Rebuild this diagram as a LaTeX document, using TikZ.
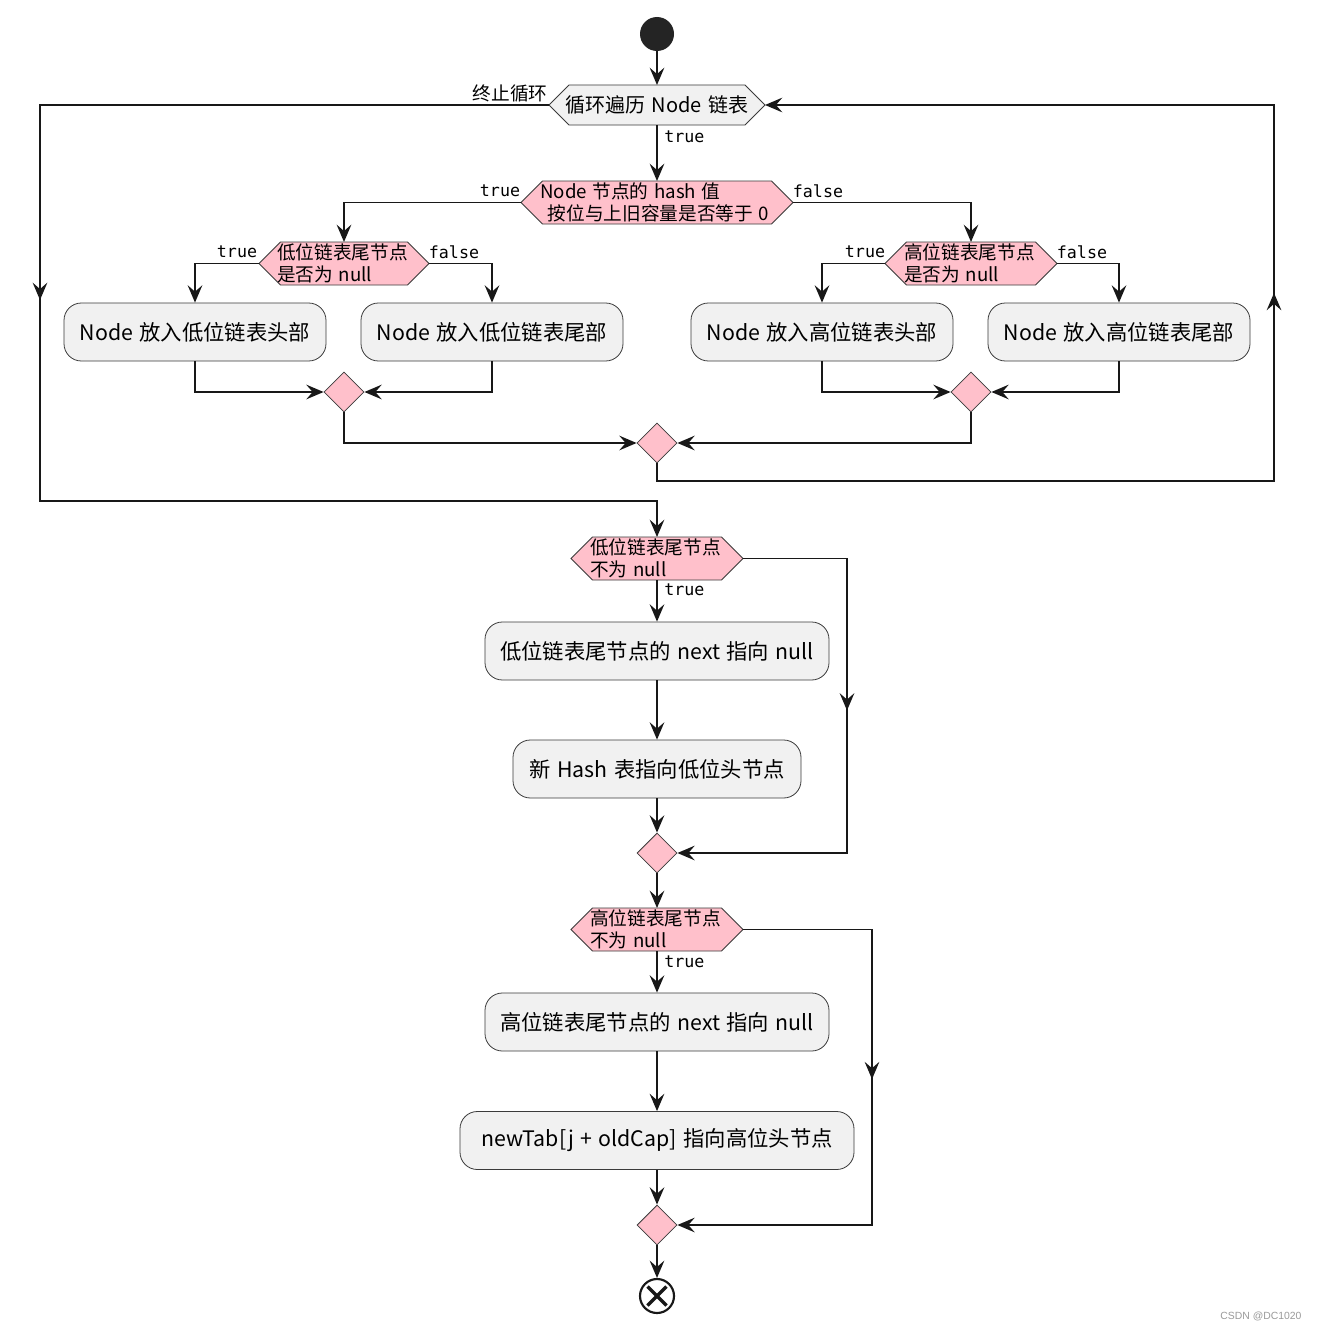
\documentclass[tikz,border=0pt]{standalone}
\usepackage{fontspec}
\setmainfont[WordSpace=1.35]{Noto Sans CJK SC}
\newfontfamily\lblfont{DejaVu Sans Mono}
\newfontfamily\wmfont{Liberation Sans}
\usetikzlibrary{arrows.meta,shapes.geometric,decorations.markings}
\definecolor{lineg}{HTML}{181818}
\definecolor{boxfill}{HTML}{F1F1F1}
\definecolor{pinkf}{HTML}{FFC0CB}
\definecolor{wmgray}{HTML}{9A9A9A}
\newcommand\myhex[6]{% name, cx, cy, half width, half height, fill
  \path[draw=lineg!85, line width=0.6pt, fill=#6] (#2-#4,#3) -- (#2-#4+#5,#3-#5) -- (#2+#4-#5,#3-#5) -- (#2+#4,#3) -- (#2+#4-#5,#3+#5) -- (#2-#4+#5,#3+#5) -- cycle;
  \node[inner sep=0pt, outer sep=0pt, minimum width={2*#4*0.75pt}, minimum height={2*#5*0.75pt}] (#1) at (#2,#3) {};}
\begin{document}
\begin{tikzpicture}[x=0.75pt,y=-0.75pt,
  uml/.tip={Stealth[length=13pt,width=11pt,inset=4.8pt]},
  conn/.style={draw=lineg, line width=1.1pt, -uml},
  midarr/.style={postaction={decorate, decoration={markings, mark=at position #1 with {\arrow{uml}}}}},
  act/.style={draw=lineg!85, line width=0.6pt, fill=boxfill, rounded corners=13pt, minimum height=43.5pt, inner sep=0pt, font=\fontsize{16}{19}\selectfont},
  merge/.style={diamond, draw=lineg!85, line width=0.6pt, fill=pinkf, minimum size=30pt, inner sep=0pt},
  lbl/.style={font=\lblfont\fontsize{12.5}{14}\selectfont, inner sep=0pt},
  dtext/.style={anchor=west, align=left, inner sep=0pt, font=\fontsize{14}{16.5}\selectfont},
]
\useasboundingbox (0,0) rectangle (1319,1331);
\fill[white] (0,0) rectangle (1319,1331);

% start
\node[circle, fill=lineg!95, minimum size=25.5pt, inner sep=0pt] (start) at (657,34) {};

% loop hexagon
\myhex{loop}{657}{105}{108}{20}{boxfill}
\node[inner sep=0pt, font=\fontsize{15}{18}\selectfont] (looptxt) at (657,105) {循环遍历 Node 链表};

% decision 1
\myhex{dec1}{657}{202.5}{136}{21.5}{pinkf}
\node[dtext] (dec1txt) at (540,202.5) {Node 节点的 hash 值\\\hspace{0.4em}按位与上旧容量是否等于 0};

% decision L / R
\myhex{decL}{344}{263.5}{85}{21.5}{pinkf}
\node[dtext] (decLtxt) at (277,263.5) {低位链表尾节点\\是否为 null};
\myhex{decR}{971}{263.5}{86}{21.5}{pinkf}
\node[dtext] (decRtxt) at (904,263.5) {高位链表尾节点\\是否为 null};

% actions top
\node[act, minimum width=196.5pt] (b1) at (195,332) {Node 放入低位链表头部};
\node[act, minimum width=196.5pt] (b2) at (492,332) {Node 放入低位链表尾部};
\node[act, minimum width=196.5pt] (b3) at (822,332) {Node 放入高位链表头部};
\node[act, minimum width=196.5pt] (b4) at (1119,332) {Node 放入高位链表尾部};

% merges top
\node[merge] (mL) at (344,392) {};
\node[merge] (mR) at (971,392) {};
\node[merge] (mAll) at (657,443) {};

% loop coordinates
\coordinate (ltop) at (40,105);
\coordinate (lbot) at (40,501);
\coordinate (rtop) at (1274,105);
\coordinate (rbot) at (1274,481);

% decision 2 block
\myhex{dec2}{657}{558.5}{86}{21.5}{pinkf}
\node[dtext] (dec2txt) at (590,558.5) {低位链表尾节点\\不为 null};
\node[act, minimum width=258pt] (a1) at (657,651) {低位链表尾节点的 next 指向 null};
\node[act, minimum width=216pt] (a2) at (657,769) {新 Hash 表指向低位头节点};
\node[merge] (m2) at (657,853) {};
\coordinate (r2) at (847,853);

% decision 3 block
\myhex{dec3}{657}{929.5}{86}{21.5}{pinkf}
\node[dtext] (dec3txt) at (590,929.5) {高位链表尾节点\\不为 null};
\node[act, minimum width=258pt] (a3) at (657,1022) {高位链表尾节点的 next 指向 null};
\node[act, minimum width=295.5pt] (a4) at (657,1140.5) {newTab[j\hspace{0.3em}+\hspace{0.3em}oldCap] 指向高位头节点};
\node[merge] (m3) at (657,1225) {};
\coordinate (r3) at (872,1225);

% end
\node[circle, draw=lineg, line width=1.6pt, fill=white, minimum size=25.5pt, inner sep=0pt] (end) at (657,1296) {};
\draw[lineg, line width=2.6pt] ([shift={(-9.5,-9.5)}]end.center) -- ([shift={(9.5,9.5)}]end.center);
\draw[lineg, line width=2.6pt] ([shift={(-9.5,9.5)}]end.center) -- ([shift={(9.5,-9.5)}]end.center);

% connectors
\draw[conn] (start) -- (loop.north);
\draw[conn] (loop.south) -- (dec1.north);
\draw[conn] (dec1.west) -| (decL.north);
\draw[conn] (dec1.east) -| (decR.north);
\draw[conn] (decL.west) -| (b1.north);
\draw[conn] (decL.east) -| (b2.north);
\draw[conn] (decR.west) -| (b3.north);
\draw[conn] (decR.east) -| (b4.north);
\draw[conn] (b1.south) |- (mL.west);
\draw[conn] (b2.south) |- (mL.east);
\draw[conn] (b3.south) |- (mR.west);
\draw[conn] (b4.south) |- (mR.east);
\draw[conn] (mL.south) |- (mAll.west);
\draw[conn] (mR.south) |- (mAll.east);
\draw[conn, midarr=617pt] (mAll.south) |- (rbot) -- (rtop) -- (loop.east);
\draw[conn, midarr=528pt] (loop.west) -- (ltop) -- (lbot) -| (dec2.north);
\draw[conn] (dec2.south) -- (a1.north);
\draw[conn] (a1.south) -- (a2.north);
\draw[conn] (a2.south) -- (m2.north);
\draw[conn, midarr=192pt] (dec2.east) -| (r2) -- (m2.east);
\draw[conn] (m2.south) -- (dec3.north);
\draw[conn] (dec3.south) -- (a3.north);
\draw[conn] (a3.south) -- (a4.north);
\draw[conn] (a4.south) -- (m3.north);
\draw[conn, midarr=209pt] (dec3.east) -| (r3) -- (m3.east);
\draw[conn] (m3.south) -- (end.north);

% labels
\node[inner sep=0pt, font=\fontsize{14}{16}\selectfont] (lexit) at (510,93) {终止循环};
\node[lbl, anchor=west] (l0) at (664,137) {true};
\node[lbl] (l1t) at (500,191) {true};
\node[lbl] (l1f) at (818,191) {false};
\node[lbl] (lLt) at (237,252) {true};
\node[lbl] (lLf) at (454,252) {false};
\node[lbl] (lRt) at (865,252) {true};
\node[lbl] (lRf) at (1082,252) {false};
\node[lbl, anchor=west] (l2) at (664,590) {true};
\node[lbl, anchor=west] (l3) at (664,962) {true};

% watermark
\node[inner sep=0pt, text=wmgray, font=\wmfont\fontsize{7.8}{9}\selectfont] (wm) at (1261,1316) {CSDN @DC1020};
\end{tikzpicture}
\end{document}
